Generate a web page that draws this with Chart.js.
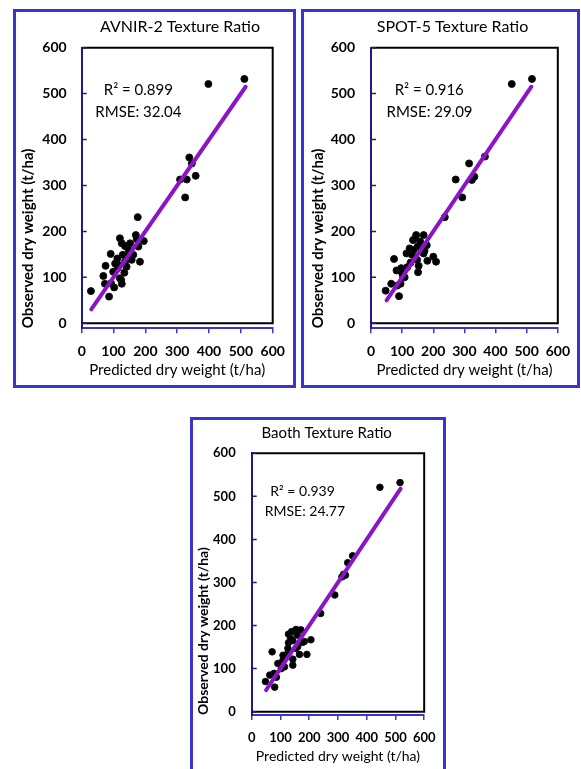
<!DOCTYPE html>
<html>
<head>
<meta charset="utf-8">
<script src="https://cdn.jsdelivr.net/npm/chart.js@4.4.1/dist/chart.umd.min.js"></script>
<style>
  html, body { margin: 0; padding: 0; background: #fff; overflow: hidden; }
  body { width: 581px; height: 769px; position: relative; }
  .panel { position: absolute; box-sizing: border-box; border: 3px solid #3a33d0; background: #fff; }
  canvas { position: absolute; }
</style>
</head>
<body>
<div class="panel" style="left:13px;top:9px;width:283px;height:379px"></div>
<div class="panel" style="left:301px;top:9px;width:279px;height:379px"></div>
<div class="panel" style="left:190px;top:417px;width:256px;height:362px"></div>
<canvas id="avnirChart" width="283" height="379" style="left:13px;top:9px"></canvas>
<canvas id="spotChart" width="279" height="379" style="left:301px;top:9px"></canvas>
<canvas id="baothChart" width="256" height="352" style="left:190px;top:417px"></canvas>
<script>
// tick values used on both axes of every plot
const axisTicks = [0, 100, 200, 300, 400, 500, 600];

// AVNIR-2 texture ratio (predicted vs observed, t/ha)
const avnirPredicted = [29, 86, 176, 170, 195, 178, 183, 120, 126, 136, 147, 91, 75, 129, 162, 157, 115, 136, 99, 134,
  68, 120, 73, 92, 102, 126, 124, 112, 152, 173, 113, 147, 105, 141, 338, 346, 309, 330, 358, 325, 398, 511];
const avnirObserved = [70, 58, 231, 192, 179, 167, 134, 185, 174, 168, 160, 151, 125, 149, 149, 138, 127, 134, 112, 110,
  103, 98, 86, 87, 78, 86, 94, 141, 174, 183, 120, 147, 130, 123, 361, 348, 313, 313, 321, 274, 521, 532];
const avnirFitX = [30, 515];
const avnirFitY = [30, 515];
const avnirStats = ['R\u00b2 = 0.899', 'RMSE: 32.04'];

// SPOT-5 texture ratio
const spotPredicted = [47, 90, 74, 65, 84, 95, 82, 97, 103, 100, 114, 124, 135, 145, 169, 158, 179, 150, 132, 148,
  153, 151, 181, 200, 209, 169, 127, 116, 137, 163, 142, 172, 108, 237, 293, 272, 315, 366, 332, 324, 452, 517];
const spotObserved = [71, 59, 140, 86, 82, 86, 115, 120, 101, 109, 152, 163, 181, 192, 192, 178, 170, 167, 149, 138,
  125, 111, 136, 145, 134, 152, 132, 122, 160, 163, 185, 158, 100, 231, 274, 313, 348, 363, 319, 312, 521, 532];
const spotFitX = [50, 515];
const spotFitY = [50, 515];
const spotStats = ['R\u00b2 = 0.916', 'RMSE: 29.09'];

// Baoth texture ratio
const baothPredicted = [48, 80, 71, 63, 78, 86, 91, 109, 114, 103, 126, 143, 143, 128, 128, 139, 154, 171, 158, 143,
  183, 206, 166, 192, 154, 177, 126, 109, 160, 135, 240, 289, 314, 320, 326, 334, 351, 446, 516];
const baothObserved = [70, 57, 139, 85, 89, 80, 112, 120, 104, 100, 136, 122, 108, 160, 180, 186, 191, 190, 178, 165,
  163, 167, 133, 133, 147, 161, 147, 131, 151, 170, 228, 271, 313, 319, 317, 346, 362, 521, 532];
const baothFitX = [50, 518];
const baothFitY = [50, 518];
const baothStats = ['R\u00b2 = 0.939', 'RMSE: 24.77'];

Chart.defaults.font.family = 'Lato, "Open Sans", sans-serif';
Chart.defaults.color = '#000';

const navy = '#1d1a8a';
const axisBlue = '#3a37c8';
const fitColor = '#8c14c8';

function toPoints(xs, ys) {
  return xs.map((x, i) => ({ x: x, y: ys[i] }));
}

function makeChart(id, title, xs, ys, fitX, fitY, stats, L) {
  // box, inner ticks, title and the R2 / RMSE note
  const decor = {
    id: 'decor' + id,
    beforeDatasetsDraw(chart) {
      const { ctx, chartArea, scales } = chart;
      const y0 = scales.y.getPixelForValue(0);
      const yTop = scales.y.getPixelForValue(600);
      ctx.save();
      ctx.strokeStyle = '#000';
      ctx.lineWidth = 2;
      ctx.beginPath();
      ctx.moveTo(chartArea.left, yTop);
      ctx.lineTo(chartArea.right, yTop);
      ctx.lineTo(chartArea.right, y0);
      ctx.lineTo(chartArea.left, y0);
      ctx.stroke();
      ctx.strokeStyle = navy;
      ctx.lineWidth = 1.5;
      ctx.beginPath();
      axisTicks.forEach(v => {
        const p = scales.y.getPixelForValue(v);
        ctx.moveTo(chartArea.left, p);
        ctx.lineTo(chartArea.left + 5, p);
      });
      ctx.stroke();
      ctx.restore();
    },
    afterDraw(chart) {
      const { ctx, scales } = chart;
      ctx.save();
      ctx.fillStyle = '#000';
      ctx.textAlign = 'center';
      ctx.textBaseline = 'middle';
      ctx.font = L.titleSize + 'px Lato';
      ctx.fillText(title, L.titleX, L.titleY);
      ctx.font = L.statSize + 'px Lato';
      stats.forEach((s, i) => {
        ctx.fillText(s, scales.x.getPixelForValue(L.statX[i]), scales.y.getPixelForValue(L.statY[i]));
      });
      ctx.restore();
    }
  };

  return new Chart(document.getElementById(id), {
    type: 'scatter',
    data: {
      datasets: [
        {
          type: 'line',
          data: toPoints(fitX, fitY),
          borderColor: fitColor,
          borderWidth: 4,
          borderCapStyle: 'round',
          pointRadius: 0,
          order: 0
        },
        {
          data: toPoints(xs, ys),
          backgroundColor: '#000',
          borderColor: '#111',
          borderWidth: 1,
          pointRadius: L.dot,
          order: 1
        }
      ]
    },
    options: {
      responsive: false,
      animation: false,
      events: [],
      layout: { padding: { top: L.top, right: L.right, left: 0, bottom: 0 } },
      plugins: { legend: { display: false }, tooltip: { enabled: false } },
      scales: {
        x: {
          type: 'linear',
          min: 0,
          max: 600,
          afterBuildTicks: s => { s.ticks = axisTicks.map(v => ({ value: v })); },
          afterFit: s => { s.height = L.xh; },
          grid: { drawOnChartArea: false, tickLength: 5, color: axisBlue, lineWidth: 1.5 },
          border: { color: axisBlue, width: 2 },
          ticks: { padding: L.xpad, font: { size: L.tick, weight: 'bold' } },
          title: {
            display: true,
            text: 'Predicted dry weight (t/ha)',
            font: { size: L.axisTitle },
            padding: { top: 0, bottom: L.xtp }
          }
        },
        y: {
          type: 'linear',
          min: L.ymin,
          max: 600,
          afterBuildTicks: s => { s.ticks = axisTicks.map(v => ({ value: v })); },
          afterFit: s => { s.width = L.yw; },
          grid: { drawOnChartArea: false, drawTicks: false },
          border: { color: navy, width: 2 },
          ticks: { padding: L.ypad, font: { size: L.tick, weight: 'bold' } },
          title: {
            display: true,
            align: 'start',
            text: 'Observed dry weight (t/ha)',
            font: { size: L.axisTitle, weight: 'bold' },
            padding: { top: L.ytp, bottom: 0 }
          }
        }
      }
    },
    plugins: [decor]
  });
}

makeChart('avnirChart', 'AVNIR-2 Texture Ratio', avnirPredicted, avnirObserved, avnirFitX, avnirFitY, avnirStats, {
  top: 38.7, right: 23.3, yw: 68.7, xh: 59.7, ymin: -11,
  xpad: 10, ypad: 15, xtp: 9, ytp: 6.3,
  tick: 14, axisTitle: 15, titleSize: 16, statSize: 15, dot: 3.5,
  titleX: 167, titleY: 18, statX: [178, 178], statY: [508, 460]
});

makeChart('spotChart', 'SPOT-5 Texture Ratio', spotPredicted, spotObserved, spotFitX, spotFitY, spotStats, {
  top: 38.7, right: 19.3, yw: 70, xh: 59.7, ymin: -11,
  xpad: 10, ypad: 16, xtp: 9, ytp: 8.3,
  tick: 14, axisTitle: 15, titleSize: 16, statSize: 15, dot: 3.5,
  titleX: 151.5, titleY: 18, statX: [187, 188], statY: [508, 460]
});

makeChart('baothChart', 'Baoth Texture Ratio', baothPredicted, baothObserved, baothFitX, baothFitY, baothStats, {
  top: 36.3, right: 19.3, yw: 61.7, xh: 54, ymin: -7.7,
  xpad: 10.5, ypad: 16, xtp: 3.9, ytp: 4.9,
  tick: 13, axisTitle: 14, titleSize: 15, statSize: 14, dot: 3.3,
  titleX: 136.7, titleY: 16, statX: [177, 185], statY: [511, 464]
});
</script>
</body>
</html>
